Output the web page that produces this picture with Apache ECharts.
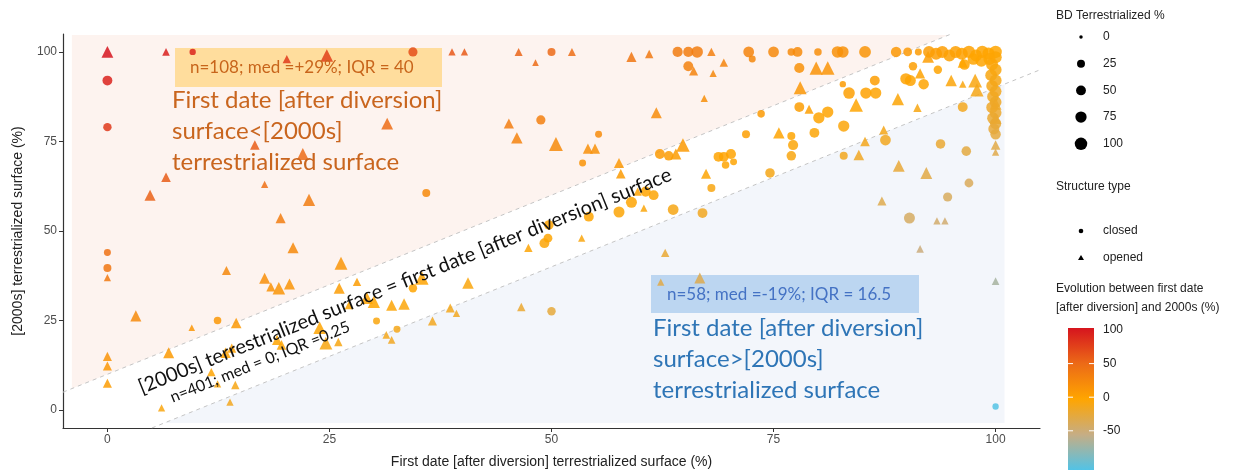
<!DOCTYPE html>
<html><head><meta charset="utf-8">
<script src="https://cdn.jsdelivr.net/npm/echarts@6/dist/echarts.min.js"></script>
<style>html,body{margin:0;padding:0;background:#fff}#c{width:1256px;height:474px}</style>
</head><body><div id="c"></div>
<script>
// ---- data ----
const xTicks = [0, 25, 50, 75, 100];
const yTicks = [0, 25, 50, 75, 100];
const sizeLegendValues = [0, 25, 50, 75, 100];
const colorbarLabels = [100, 50, 0, -50];
const diagOffset = 10; // +/-10 band around y = x

// closed structures: [first date %, 2000s %, BD terrestrialized %]
const closedPoints = [
  [0,92,50],[0,79,30],[0,44,15],[0,39.7,25],
  [9.6,100,10],[34.4,100,40],[50,100,25],[64.2,100,55],[65.4,100,55],[66.4,100,80],[65.4,96,50],
  [72.2,100,65],[72.6,98,15],[75,100,65],[77,100,20],[77.7,100,50],[80,100,20],[82.2,100,80],[82.8,100,80],
  [85.3,100,85],[88.8,100,60],[90.1,100,35],[91.3,100,15],
  [92.5,100,85],[93.3,99.5,90],[94,100,90],[94.8,99,85],[95.5,100,90],[96.2,99.5,90],[97,100,95],[97.8,99,90],
  [98.5,100,95],[99.2,99.5,95],[100,100,100],[100,98.5,95],[99.3,98,90],[98.4,97.5,85],[97.5,98,80],[96.5,96.5,60],
  [99.6,96.5,90],[100,95,90],[99.5,93.5,85],[100,92,90],[99.6,90.5,80],[100,89,85],[99.7,87.5,80],[100,86,85],
  [99.6,84.5,80],[100,83,85],[99.7,81.5,80],[100,80,75],[99.8,78.5,70],[100,77,60],
  [90.7,96,30],[93.5,95,30],[77.9,95.5,55],[82.8,91,10],[86.4,92,50],[89.9,92.5,75],[90.4,92,70],[91.9,91,60],
  [83.5,88.5,80],[85.4,88.5,75],[86.5,88.5,75],[77.9,84.6,50],[81.1,83.2,75],[80.1,81.6,75],[73.6,82.7,20],
  [96.3,84.6,50],[82.9,79.3,75],[79.6,77.4,50],[77,76.5,25],[71.9,77,25],[77.2,74,55],[77,71,45],[87.6,75.4,65],
  [82.9,71,25],[93.8,74.3,45],[96.7,72.3,45],[69.4,70.7,50],[70.2,71.5,55],[69.6,68.4,20],[70.5,69.3,15],
  [74.6,66.2,45],[97,63.4,35],[94.6,59.5,40],[90.3,53.6,70],
  [48.8,81,40],[55.3,77,15],[53.5,69,15],[62.2,71.5,50],[63.2,71,45],[35.9,60.6,25],[68,62,25],[60.6,61,55],
  [61.5,60,50],[59,58,70],[57.6,55.3,70],[63.7,56,65],[67,55,50],[54.2,54,50],[49.7,51.7,45],[68.8,70.7,50],
  [49.2,46.6,50],[49.6,48,35],[34.4,34,30],[30.3,24.9,15],[12.4,25,20],[32.6,22.6,15],[50,27.6,30],[100,1,10]
];

// opened structures: [first date %, 2000s %, BD terrestrialized %]
const openedPoints = [
  [0,100,50],[6.6,100,10],[20.2,98,15],[24.7,99,60],[31.5,80,50],[16.6,74,25],[22,71.5,50],[6.6,65,25],
  [17.7,63,8],[4.8,60,40],[22.7,58.7,55],[19.5,53.6,30],
  [38.8,100,8],[40.2,100,8],[46.3,100,12],[52.3,100,12],[48.2,97,5],[59,98.6,30],[61,99.4,15],[68,100,15],
  [66,94.7,20],[68.2,94,8],[67.2,87,8],[61.8,83,40],[45.2,80,30],[46.1,76,45],[50.5,74.3,80],[54.1,73,30],
  [54.9,73,30],[57.6,69,30],[57.8,66,25],[64.8,74,75],[64,71.5,40],[67.4,66,30],[59.7,61,15],[60.4,56.4,8],
  [69.4,97,15],[92.4,98.6,50],[91.5,94,30],[95,92,45],[96.3,91,8],[97.7,92,80],[97.9,89.4,70],[79.8,95.5,70],
  [81.1,95.5,75],[78,90,65],[89,86.8,55],[84.3,85.2,75],[79,84,20],[91.2,84.4,15],[87.4,78.2,20],[75.6,77.4,45],
  [85.3,75,25],[84.6,71.2,35],[89.1,68.2,50],[92.2,66.2,50],[87.2,58.4,20],[93.4,52.8,8],[94.3,52.8,8],
  [100,74,25],[100,72,8],[96.3,97,30],[100,85.5,50],[100,81.5,45],
  [0,37,8],[20.9,45.3,40],[26.3,41,65],[13.4,39,20],[17.7,36.8,40],[18.4,34.4,20],[19.3,34,60],[20.5,35.2,40],
  [3.2,26.3,40],[9.5,23,5],[14.5,24.3,35],[0,15,20],[0,12.3,20],[0,7.5,20],[6.9,16,40],[13.3,16,35],[14,17.3,20],
  [23.9,23,60],[24.6,18.7,65],[26,19,15],[19.1,19.6,30],[19.6,18.2,25],[26.1,34,40],[28.1,35.8,15],[27.2,29.3,15],
  [29.2,31.3,55],[30,30.2,55],[31.4,21,10],[32,19.6,10],[32,29.3,40],[33.4,29.6,45],[11.7,10.6,15],[14.4,7,15],
  [13.8,2.2,8],[6.1,0.6,8],[12.4,7.3,8],[35.4,36.9,75],[40.6,35.5,45],[38.6,28.5,20],[39.3,27,8],[36.6,24.9,20],
  [53.4,48,8],[47.4,45.3,15],[46.6,28.8,15],[62.8,43.9,15],[62.3,35.7,8],[66.7,36.9,40],[91.5,45,10],[100,36,10]
];

// ---- styling / mapping ----
const evoColors = ['#52c3e6', '#c6ad84', '#ffa500', '#ec6a17', '#d6141e'];
function sizeOf(bd) { return 3.5 + 9 * Math.sqrt(bd / 100); }
const TRI = 1.2;
const withEvo = pts => pts.map(p => [p[0], p[1], p[2], p[1] - p[0]]);

const upperRegion = [[-4, -4 + diagOffset], [-4, 104.7], [104.7 - diagOffset, 104.7]];
const lowerRegion = [[-3.6 + diagOffset, -3.6], [101, -3.6], [101, 101 - diagOffset]];

function regionSeries(verts, color) {
  return {
    type: 'custom', coordinateSystem: 'cartesian2d', data: [[0, 0]], silent: true, z: 0,
    renderItem: (p, api) => ({
      type: 'polygon',
      shape: { points: verts.map(v => api.coord(v)) },
      style: { fill: color }
    })
  };
}

const chart = echarts.init(document.getElementById('c'), null, { renderer: 'canvas' });

const FONT = '"Liberation Sans", Arial, sans-serif';
const CAL = 'Lato, "Open Sans", sans-serif';
const rot = Math.atan(3.58 / 8.88);

const graphics = [];
// annotation boxes
graphics.push({ type: 'rect', z: 1, shape: { x: 175, y: 48, width: 267, height: 39 }, style: { fill: 'rgba(255,214,130,0.75)' } });
graphics.push({ type: 'rect', z: 1, shape: { x: 651, y: 275, width: 268, height: 38 }, style: { fill: 'rgba(178,208,238,0.85)' } });
graphics.push({ type: 'text', z: 10, x: 190, y: 68, style: { text: 'n=108; med =+29%; IQR = 40', font: '17px ' + CAL, fill: '#c8651b', verticalAlign: 'middle' } });
graphics.push({ type: 'text', z: 10, x: 667, y: 295, style: { text: 'n=58; med =-19%; IQR = 16.5', font: '17px ' + CAL, fill: '#4472c4', verticalAlign: 'middle' } });
['First date [after diversion]', 'surface<[2000s]', 'terrestrialized surface'].forEach((t, i) => {
  graphics.push({ type: 'text', z: 10, x: 172, y: 100 + i * 31, style: { text: t, font: '24px ' + CAL, fill: '#c9651e', verticalAlign: 'middle' } });
});
['First date [after diversion]', 'surface>[2000s]', 'terrestrialized surface'].forEach((t, i) => {
  graphics.push({ type: 'text', z: 10, x: 653, y: 328 + i * 31, style: { text: t, font: '24px ' + CAL, fill: '#2e75b6', verticalAlign: 'middle' } });
});
graphics.push({ type: 'text', z: 10, x: 405, y: 281, rotation: rot, style: { text: '[2000s] terrestrialized surface = first date [after diversion] surface', font: '20px ' + CAL, fill: '#111', align: 'center', verticalAlign: 'middle' } });
graphics.push({ type: 'text', z: 10, x: 260, y: 362, rotation: rot, style: { text: 'n=401; med = 0; IQR =0.25', font: '16px ' + CAL, fill: '#111', align: 'center', verticalAlign: 'middle' } });

// legends
graphics.push({ type: 'text', x: 1056, y: 16, style: { text: 'BD Terrestrialized %', font: '12px ' + FONT, fill: '#222', verticalAlign: 'middle' } });
sizeLegendValues.forEach((v, i) => {
  const cy = 37 + i * 26.7;
  graphics.push({ type: 'circle', shape: { cx: 1081, cy: cy, r: sizeOf(v) / 2 }, style: { fill: '#000' } });
  graphics.push({ type: 'text', x: 1103, y: cy, style: { text: String(v), font: '12px ' + FONT, fill: '#222', verticalAlign: 'middle' } });
});
graphics.push({ type: 'text', x: 1056, y: 187, style: { text: 'Structure type', font: '12px ' + FONT, fill: '#222', verticalAlign: 'middle' } });
graphics.push({ type: 'circle', shape: { cx: 1081, cy: 231, r: 2.3 }, style: { fill: '#000' } });
graphics.push({ type: 'text', x: 1103, y: 231, style: { text: 'closed', font: '12px ' + FONT, fill: '#222', verticalAlign: 'middle' } });
graphics.push({ type: 'polygon', shape: { points: [[1081, 255], [1084, 260], [1078, 260]] }, style: { fill: '#000' } });
graphics.push({ type: 'text', x: 1103, y: 258, style: { text: 'opened', font: '12px ' + FONT, fill: '#222', verticalAlign: 'middle' } });
graphics.push({ type: 'text', x: 1056, y: 289, style: { text: 'Evolution between first date', font: '12px ' + FONT, fill: '#222', verticalAlign: 'middle' } });
graphics.push({ type: 'text', x: 1056, y: 308, style: { text: '[after diversion] and 2000s (%)', font: '12px ' + FONT, fill: '#222', verticalAlign: 'middle' } });
const cbTop = 328, cbH = 142, cbX = 1068, cbW = 26;
graphics.push({ type: 'rect', shape: { x: cbX, y: cbTop, width: cbW, height: cbH }, style: {
  fill: new echarts.graphic.LinearGradient(0, 0, 0, 1, evoColors.slice().reverse().map((c, i) => ({ offset: i / 4, color: c })))
} });
colorbarLabels.forEach(v => {
  const yy = cbTop + 2 + (100 - v) / 50 * 33.6;
  graphics.push({ type: 'text', x: 1103, y: yy, style: { text: String(v), font: '12px ' + FONT, fill: '#222', verticalAlign: 'middle' } });
  if (v !== 100) {
    graphics.push({ type: 'line', shape: { x1: cbX, y1: yy, x2: cbX + 5, y2: yy }, style: { stroke: '#fff', lineWidth: 1 } });
    graphics.push({ type: 'line', shape: { x1: cbX + cbW - 5, y1: yy, x2: cbX + cbW, y2: yy }, style: { stroke: '#fff', lineWidth: 1 } });
  }
});

const option = {
  animation: false,
  backgroundColor: '#fff',
  grid: { left: 63, right: 216, top: 34, bottom: 46 },
  xAxis: {
    type: 'value', min: -5, max: 105,
    name: 'First date [after diversion] terrestrialized surface (%)', nameLocation: 'middle', nameGap: 27,
    nameTextStyle: { fontFamily: FONT, fontSize: 14, color: '#222' },
    axisLine: { show: true, onZero: false, lineStyle: { color: '#333', width: 1.2 } },
    axisTick: { show: true, length: 4, customValues: xTicks, lineStyle: { color: '#333' } },
    axisLabel: { customValues: xTicks, fontFamily: FONT, fontSize: 12, color: '#4d4d4d', margin: 6 },
    splitLine: { show: false }
  },
  yAxis: {
    type: 'value', min: -5, max: 105,
    name: '[2000s] terrestrialized surface (%)', nameLocation: 'middle', nameGap: 38,
    nameTextStyle: { fontFamily: FONT, fontSize: 14, color: '#222' },
    axisLine: { show: true, onZero: false, lineStyle: { color: '#333', width: 1.2 } },
    axisTick: { show: true, length: 4, customValues: yTicks, lineStyle: { color: '#333' } },
    axisLabel: { customValues: yTicks, fontFamily: FONT, fontSize: 12, color: '#4d4d4d', margin: 6 },
    splitLine: { show: false }
  },
  visualMap: {
    type: 'continuous', show: false, min: -100, max: 100, dimension: 3, seriesIndex: [4, 5],
    inRange: { color: evoColors }
  },
  series: [
    regionSeries(upperRegion, '#fdf3ef'),
    regionSeries(lowerRegion, '#f3f6fb'),
    { type: 'line', silent: true, symbol: 'none', z: 1, data: [[-5, -5 + diagOffset], [105 - diagOffset, 105]],
      lineStyle: { color: '#c4c4c4', width: 1, type: [4, 4] } },
    { type: 'line', silent: true, symbol: 'none', z: 1, data: [[-5 + diagOffset, -5], [105, 105 - diagOffset]],
      lineStyle: { color: '#c4c4c4', width: 1, type: [4, 4] } },
    { type: 'scatter', z: 3, symbol: 'circle', data: withEvo(closedPoints),
      symbolSize: v => sizeOf(v[2]), itemStyle: { opacity: 0.85 } },
    { type: 'scatter', z: 3, symbol: 'triangle', data: withEvo(openedPoints),
      symbolSize: v => sizeOf(v[2]) * TRI, itemStyle: { opacity: 0.85 } }
  ],
  graphic: { elements: graphics }
};
chart.setOption(option);
</script></body></html>
